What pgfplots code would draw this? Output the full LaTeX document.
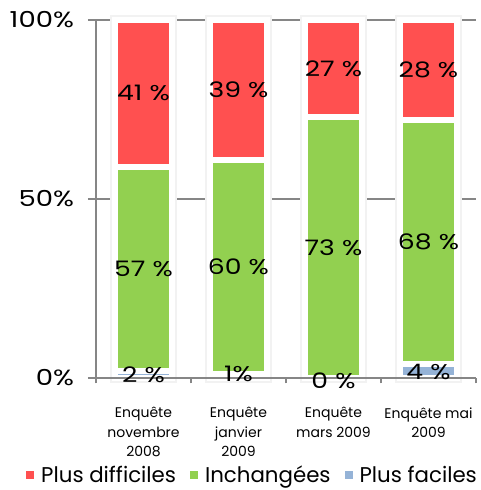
\documentclass[border=0pt]{standalone}
\usepackage{fontspec}
\setmainfont{Poppins}
\newfontfamily\numfont[FakeStretch=1.25]{Poppins}
\usepackage{pgfplots}
\pgfplotsset{compat=1.18}

\definecolor{rouge}{HTML}{FF5050}
\definecolor{vert}{HTML}{92D050}
\definecolor{bleu}{HTML}{95B3D7}
\definecolor{axe}{HTML}{868686}

% common geometry: 1px = 0.75pt
\pgfplotsset{base/.style={
    scale only axis, width=285pt, height=268.5pt,
    xmin=-0.5, xmax=3.5, ymin=0, ymax=100,
    clip=false,
}}

\begin{document}
\begin{tikzpicture}
% grid and bar shadows
\begin{axis}[base,
    axis line style={draw=none},
    xtick=\empty, ytick={0,50,100}, yticklabels={},
    major tick length=0pt,
    ymajorgrids, grid style={axe, line width=0.9pt},
    ybar, bar width=0.61,
]
\addplot[fill=white, draw=black!5, line width=7pt] coordinates {(0,100) (1,100) (2,100) (3,100)};
\end{axis}

% stacked bars
\begin{axis}[base, hide axis, ybar stacked, bar width=0.61]
\addplot[fill=bleu, draw=white, line width=4.5pt] coordinates {(0,2) (1,1) (2,0) (3,4)};
\addplot[fill=vert, draw=white, line width=4.5pt] coordinates {(0,57) (1,60) (2,73) (3,68)};
\addplot[fill=rouge, draw=white, line width=4.5pt] coordinates {(0,41) (1,39) (2,27) (3,28)};
\end{axis}

% axis lines, ticks, labels, legend
\begin{axis}[base, name=ax,
    axis x line*=bottom, axis y line*=left,
    axis line style={axe, line width=0.9pt},
    tick style={axe, line width=0.9pt},
    tick align=outside,
    ytick={0,50,100}, yticklabels={0\%,50\%,100\%},
    yticklabel style={font=\numfont\fontsize{16.5}{20}\selectfont, xshift=-7pt},
    major tick length=6pt,
    xtick={0,1,2,3}, major x tick style={draw=none},
    xticklabels={Enquête\\novembre\\2008, Enquête\\janvier\\2009, Enquête\\mars 2009, Enquête mai\\2009},
    xticklabel style={align=center, font=\fontsize{10.5}{14.5}\selectfont, yshift=-12.5pt},
    minor xtick={-0.5,0.5,1.5,2.5,3.5}, minor tick length=4pt,
    legend style={at={(0.413,-0.271)}, anchor=center, draw=none, fill=none,
        font=\fontsize{16}{18}\selectfont, legend columns=3,
        /tikz/every even column/.append style={column sep=8.5pt}},
    legend image code/.code={\fill[#1] (0pt,-2.6pt) rectangle (5.2pt,2.6pt); \path[draw=none, fill=none] (0pt,-0.1pt) rectangle (9pt,0.1pt);},
]
\addlegendimage{rouge}
\addlegendentry{Plus difficiles}
\addlegendimage{vert}
\addlegendentry{Inchangées}
\addlegendimage{bleu}
\addlegendentry{Plus faciles}
\addplot[draw=none, mark=none, forget plot,
    nodes near coords, point meta=explicit symbolic,
    every node near coord/.append style={anchor=center, font=\numfont\fontsize{16}{18}\selectfont, text=black}]
    coordinates {
    (0,79.5) [41 \%] (1,80.5) [39 \%] (2,86.5) [27 \%] (3,86) [28 \%]
    (0,30.5) [57 \%] (1,31) [60 \%] (2,36.5) [73 \%] (3,38) [68 \%]
    (0,1) [2 \%] (1,1.2) [1\%] (2,-0.8) [0 \%] (3,1.8) [4 \%]
    };
\end{axis}
\pgfresetboundingbox
\path ([xshift=-72pt, yshift=-84pt]ax.south west) rectangle ++(360.75pt,367.5pt);
\end{tikzpicture}
\end{document}
